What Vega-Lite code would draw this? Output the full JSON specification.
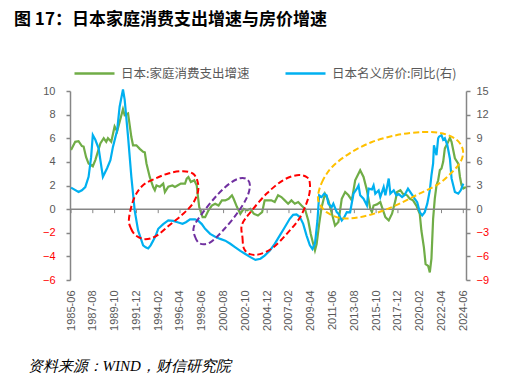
{
  "$schema": "https://vega.github.io/schema/vega-lite/v6.json",
  "autosize": {"type": "none"},
  "width": 396,
  "height": 189,
  "padding": {"left": 70, "top": 91, "right": 57, "bottom": 107},
  "background": "white",
  "title": {"text": "图 17：日本家庭消费支出增速与房价增速", "anchor": "start", "frame": "group", "dx": -56, "offset": 23, "font": "Noto Sans CJK SC", "fontSize": 17, "fontWeight": "bold", "color": "#000000"},
  "config": {"view": {"stroke": null}, "font": "Liberation Sans", "axis": {"labelOverlap": false, "labelFlush": false}},
  "datasets": {
    "consumption": [
      {"date": "1985-06", "value": 5.0}, {"date": "1985-11", "value": 5.7}, {"date": "1986-03", "value": 5.75}, {"date": "1986-07", "value": 5.34},
      {"date": "1986-09", "value": 5.3}, {"date": "1986-12", "value": 4.4}, {"date": "1987-03", "value": 3.86}, {"date": "1987-08", "value": 3.63},
      {"date": "1987-11", "value": 4.15}, {"date": "1988-05", "value": 5.56}, {"date": "1988-09", "value": 6.0}, {"date": "1988-12", "value": 5.7},
      {"date": "1989-02", "value": 6.0}, {"date": "1989-06", "value": 5.7}, {"date": "1989-10", "value": 7.0}, {"date": "1990-01", "value": 6.6},
      {"date": "1990-08", "value": 8.46}, {"date": "1990-10", "value": 7.95}, {"date": "1991-02", "value": 8.1}, {"date": "1991-06", "value": 6.1},
      {"date": "1991-08", "value": 5.4}, {"date": "1991-12", "value": 5.4}, {"date": "1992-04", "value": 5.1}, {"date": "1992-08", "value": 4.85},
      {"date": "1992-10", "value": 4.8}, {"date": "1992-12", "value": 3.86}, {"date": "1993-04", "value": 2.7}, {"date": "1993-08", "value": 1.87},
      {"date": "1993-10", "value": 1.6}, {"date": "1993-12", "value": 2.0}, {"date": "1994-04", "value": 1.9}, {"date": "1994-08", "value": 2.16},
      {"date": "1994-10", "value": 1.45}, {"date": "1995-02", "value": 1.9}, {"date": "1995-07", "value": 2.0}, {"date": "1995-10", "value": 1.87},
      {"date": "1996-01", "value": 2.0}, {"date": "1996-05", "value": 2.16}, {"date": "1996-10", "value": 2.16}, {"date": "1996-12", "value": 2.58},
      {"date": "1997-02", "value": 2.72}, {"date": "1997-05", "value": 2.3}, {"date": "1997-09", "value": 2.44}, {"date": "1997-12", "value": 2.0},
      {"date": "1998-01", "value": 1.3}, {"date": "1998-03", "value": 0.17}, {"date": "1998-05", "value": -0.26}, {"date": "1998-07", "value": -0.68},
      {"date": "1998-10", "value": -0.68}, {"date": "1999-02", "value": -0.1}, {"date": "1999-06", "value": 0.3}, {"date": "1999-10", "value": 0.46},
      {"date": "2000-02", "value": 0.3}, {"date": "2000-06", "value": 0.74}, {"date": "2000-10", "value": 0.74}, {"date": "2001-02", "value": 0.88},
      {"date": "2001-06", "value": 1.17}, {"date": "2001-08", "value": 0.88}, {"date": "2001-12", "value": 0.17}, {"date": "2002-04", "value": -0.39},
      {"date": "2002-08", "value": 0.03}, {"date": "2002-12", "value": -0.1}, {"date": "2003-04", "value": 0.03}, {"date": "2003-08", "value": -0.39},
      {"date": "2004-01", "value": -0.54}, {"date": "2004-06", "value": -0.26}, {"date": "2004-09", "value": 0.74}, {"date": "2005-01", "value": 0.74},
      {"date": "2005-05", "value": 0.74}, {"date": "2005-09", "value": 0.6}, {"date": "2006-01", "value": 1.17}, {"date": "2006-05", "value": 1.02},
      {"date": "2006-09", "value": 0.74}, {"date": "2007-01", "value": 0.46}, {"date": "2007-05", "value": 0.74}, {"date": "2007-09", "value": 0.46},
      {"date": "2008-01", "value": 0.6}, {"date": "2008-05", "value": 0.3}, {"date": "2008-09", "value": 0.03}, {"date": "2009-01", "value": -0.96},
      {"date": "2009-04", "value": -2.1}, {"date": "2009-07", "value": -2.95}, {"date": "2009-09", "value": -3.5}, {"date": "2009-11", "value": -2.95},
      {"date": "2010-02", "value": -1.25}, {"date": "2010-05", "value": 0.17}, {"date": "2010-09", "value": 1.3}, {"date": "2011-01", "value": 0.74},
      {"date": "2011-05", "value": -0.3}, {"date": "2011-09", "value": -1.4}, {"date": "2012-01", "value": -1.1}, {"date": "2012-05", "value": 0.88},
      {"date": "2012-09", "value": 1.45}, {"date": "2013-01", "value": 1.17}, {"date": "2013-05", "value": 0.74}, {"date": "2013-09", "value": 2.44},
      {"date": "2013-12", "value": 2.87}, {"date": "2014-03", "value": 3.3}, {"date": "2014-07", "value": 2.72}, {"date": "2014-11", "value": 1.6},
      {"date": "2015-03", "value": 0.03}, {"date": "2015-05", "value": -0.26}, {"date": "2015-07", "value": 0.3}, {"date": "2015-11", "value": 0.4},
      {"date": "2016-03", "value": 0.6}, {"date": "2016-05", "value": 0.17}, {"date": "2016-09", "value": -0.68}, {"date": "2017-01", "value": -0.96},
      {"date": "2017-05", "value": -0.39}, {"date": "2017-09", "value": 0.74}, {"date": "2017-11", "value": 1.45}, {"date": "2018-03", "value": 1.6},
      {"date": "2018-06", "value": 1.3}, {"date": "2018-11", "value": 1.17}, {"date": "2019-02", "value": 0.88}, {"date": "2019-06", "value": 0.74},
      {"date": "2019-10", "value": 0.3}, {"date": "2020-02", "value": -0.39}, {"date": "2020-04", "value": -1.81}, {"date": "2020-07", "value": -3.23},
      {"date": "2020-09", "value": -4.65}, {"date": "2020-12", "value": -4.8}, {"date": "2021-02", "value": -5.36}, {"date": "2021-04", "value": -4.2},
      {"date": "2021-06", "value": -0.82}, {"date": "2021-08", "value": 0.88}, {"date": "2021-10", "value": 2.0}, {"date": "2021-12", "value": 2.44},
      {"date": "2022-02", "value": 3.3}, {"date": "2022-04", "value": 3.44}, {"date": "2022-06", "value": 4.0}, {"date": "2022-08", "value": 5.14},
      {"date": "2022-11", "value": 5.56}, {"date": "2023-02", "value": 6.04}, {"date": "2023-04", "value": 5.7}, {"date": "2023-08", "value": 4.3},
      {"date": "2023-12", "value": 3.86}, {"date": "2024-02", "value": 2.72}, {"date": "2024-04", "value": 2.0}, {"date": "2024-06", "value": 1.74},
      {"date": "2024-09", "value": 1.87}
    ],
    "housePrice": [
      {"date": "1985-06", "value": 2.73}, {"date": "1986-03", "value": 2.17}, {"date": "1986-07", "value": 2.4}, {"date": "1986-11", "value": 2.8},
      {"date": "1987-03", "value": 4.1}, {"date": "1987-06", "value": 6.6}, {"date": "1987-08", "value": 9.4}, {"date": "1987-11", "value": 8.8},
      {"date": "1988-03", "value": 7.7}, {"date": "1988-08", "value": 4.1}, {"date": "1989-01", "value": 5.2}, {"date": "1989-05", "value": 6.2},
      {"date": "1989-08", "value": 7.9}, {"date": "1990-01", "value": 10.0}, {"date": "1990-04", "value": 13.0}, {"date": "1990-08", "value": 15.2},
      {"date": "1990-10", "value": 13.9}, {"date": "1991-02", "value": 9.2}, {"date": "1991-06", "value": 4.1}, {"date": "1991-10", "value": -0.2},
      {"date": "1992-02", "value": -2.7}, {"date": "1992-08", "value": -4.6}, {"date": "1992-11", "value": -4.85}, {"date": "1993-02", "value": -5.0},
      {"date": "1993-05", "value": -4.6}, {"date": "1993-08", "value": -4.0}, {"date": "1993-11", "value": -3.36}, {"date": "1994-02", "value": -2.5},
      {"date": "1994-08", "value": -1.9}, {"date": "1995-02", "value": -1.44}, {"date": "1995-08", "value": -1.5}, {"date": "1996-02", "value": -1.7},
      {"date": "1996-07", "value": -1.87}, {"date": "1996-11", "value": -1.66}, {"date": "1997-04", "value": -1.3}, {"date": "1997-10", "value": -1.3},
      {"date": "1998-02", "value": -1.5}, {"date": "1998-06", "value": -1.9}, {"date": "1998-10", "value": -2.5}, {"date": "1999-04", "value": -3.14},
      {"date": "1999-10", "value": -3.5}, {"date": "2000-04", "value": -3.78}, {"date": "2000-10", "value": -4.0}, {"date": "2001-04", "value": -4.4},
      {"date": "2001-10", "value": -4.85}, {"date": "2002-04", "value": -5.3}, {"date": "2002-10", "value": -5.7}, {"date": "2003-04", "value": -6.1},
      {"date": "2003-10", "value": -6.45}, {"date": "2004-04", "value": -6.3}, {"date": "2004-09", "value": -5.9}, {"date": "2005-03", "value": -5.3},
      {"date": "2005-09", "value": -4.4}, {"date": "2006-03", "value": -3.36}, {"date": "2006-09", "value": -2.3}, {"date": "2007-03", "value": -1.23},
      {"date": "2007-07", "value": -0.72}, {"date": "2007-11", "value": -0.68}, {"date": "2008-03", "value": -1.0}, {"date": "2008-07", "value": -1.87},
      {"date": "2008-11", "value": -3.36}, {"date": "2009-03", "value": -4.6}, {"date": "2009-06", "value": -5.06}, {"date": "2009-09", "value": -4.4},
      {"date": "2009-12", "value": -1.44}, {"date": "2010-02", "value": 1.75}, {"date": "2010-05", "value": 1.53}, {"date": "2010-08", "value": 1.96},
      {"date": "2010-11", "value": 1.75}, {"date": "2011-01", "value": 0.69}, {"date": "2011-05", "value": 0.26}, {"date": "2011-07", "value": 0.69},
      {"date": "2011-11", "value": -0.38}, {"date": "2012-01", "value": -0.59}, {"date": "2012-05", "value": -1.44}, {"date": "2012-08", "value": -1.02},
      {"date": "2012-11", "value": -0.38}, {"date": "2013-03", "value": -0.4}, {"date": "2013-07", "value": 1.96}, {"date": "2013-11", "value": 2.6},
      {"date": "2014-01", "value": 3.0}, {"date": "2014-03", "value": 1.75}, {"date": "2014-07", "value": 1.32}, {"date": "2014-11", "value": 0.47},
      {"date": "2015-01", "value": 2.6}, {"date": "2015-05", "value": 2.5}, {"date": "2015-07", "value": 3.0}, {"date": "2015-09", "value": 1.96},
      {"date": "2016-01", "value": 2.39}, {"date": "2016-03", "value": 1.53}, {"date": "2016-07", "value": 2.8}, {"date": "2016-09", "value": 1.75},
      {"date": "2017-01", "value": 3.88}, {"date": "2017-03", "value": 1.96}, {"date": "2017-07", "value": 2.39}, {"date": "2017-10", "value": 1.75},
      {"date": "2018-01", "value": 1.9}, {"date": "2018-05", "value": 1.53}, {"date": "2018-08", "value": 1.8}, {"date": "2018-12", "value": 2.6},
      {"date": "2019-04", "value": 1.96}, {"date": "2019-08", "value": 1.32}, {"date": "2019-11", "value": 0.89}, {"date": "2020-02", "value": -0.38},
      {"date": "2020-05", "value": -0.8}, {"date": "2020-08", "value": -0.38}, {"date": "2020-11", "value": 0.69}, {"date": "2021-02", "value": 2.39},
      {"date": "2021-04", "value": 4.3}, {"date": "2021-06", "value": 5.8}, {"date": "2021-07", "value": 8.1}, {"date": "2021-10", "value": 6.85},
      {"date": "2021-12", "value": 9.0}, {"date": "2022-01", "value": 9.2}, {"date": "2022-04", "value": 9.4}, {"date": "2022-06", "value": 8.8},
      {"date": "2022-08", "value": 9.0}, {"date": "2022-11", "value": 8.1}, {"date": "2023-02", "value": 6.4}, {"date": "2023-04", "value": 3.9},
      {"date": "2023-08", "value": 2.17}, {"date": "2023-12", "value": 1.96}, {"date": "2024-03", "value": 2.39}, {"date": "2024-06", "value": 3.24}
    ],
    "ellipses": [
      {"ellipse": "A", "i": 1, "date": "1991-03-07", "value": -0.79}, {"ellipse": "A", "i": 2, "date": "1991-05-18", "value": -1.64},
      {"ellipse": "A", "i": 3, "date": "1991-11-17", "value": -2.24}, {"ellipse": "A", "i": 4, "date": "1992-10-09", "value": -2.54},
      {"ellipse": "A", "i": 5, "date": "1993-11-13", "value": -2.28}, {"ellipse": "A", "i": 6, "date": "1995-02-28", "value": -1.39},
      {"ellipse": "A", "i": 7, "date": "1996-07-19", "value": -0.41}, {"ellipse": "A", "i": 8, "date": "1997-07-16", "value": 0.49},
      {"ellipse": "A", "i": 9, "date": "1998-01-16", "value": 1.51}, {"ellipse": "A", "i": 10, "date": "1997-12-28", "value": 2.36},
      {"ellipse": "A", "i": 11, "date": "1997-07-16", "value": 3.0}, {"ellipse": "A", "i": 12, "date": "1996-07-19", "value": 3.21},
      {"ellipse": "A", "i": 13, "date": "1995-02-28", "value": 3.04}, {"ellipse": "A", "i": 14, "date": "1993-11-13", "value": 2.61},
      {"ellipse": "A", "i": 15, "date": "1992-07-27", "value": 2.02}, {"ellipse": "A", "i": 16, "date": "1991-09-06", "value": 0.91},
      {"ellipse": "B", "i": 1, "date": "1997-08-21", "value": -1.47}, {"ellipse": "B", "i": 2, "date": "1997-09-27", "value": -2.32},
      {"ellipse": "B", "i": 3, "date": "1998-03-27", "value": -2.92}, {"ellipse": "B", "i": 4, "date": "1999-03-24", "value": -2.83},
      {"ellipse": "B", "i": 5, "date": "2000-07-09", "value": -1.81}, {"ellipse": "B", "i": 6, "date": "2001-12-01", "value": -0.37},
      {"ellipse": "B", "i": 7, "date": "2002-11-27", "value": 0.99}, {"ellipse": "B", "i": 8, "date": "2003-03-15", "value": 2.02},
      {"ellipse": "B", "i": 9, "date": "2002-11-27", "value": 2.53}, {"ellipse": "B", "i": 10, "date": "2002-03-18", "value": 2.61},
      {"ellipse": "B", "i": 11, "date": "2001-03-21", "value": 2.19}, {"ellipse": "B", "i": 12, "date": "1999-12-06", "value": 1.17},
      {"ellipse": "B", "i": 13, "date": "1998-07-15", "value": -0.28},
      {"ellipse": "C", "i": 1, "date": "2002-06-01", "value": -1.3}, {"ellipse": "C", "i": 2, "date": "2002-06-18", "value": -2.41},
      {"ellipse": "C", "i": 3, "date": "2002-08-12", "value": -3.34}, {"ellipse": "C", "i": 4, "date": "2003-03-15", "value": -3.81},
      {"ellipse": "C", "i": 5, "date": "2004-03-15", "value": -3.81}, {"ellipse": "C", "i": 6, "date": "2005-07-01", "value": -3.26},
      {"ellipse": "C", "i": 7, "date": "2006-11-21", "value": -2.07}, {"ellipse": "C", "i": 8, "date": "2008-03-06", "value": -0.71},
      {"ellipse": "C", "i": 9, "date": "2009-01-09", "value": 1.0}, {"ellipse": "C", "i": 10, "date": "2009-03-03", "value": 2.1},
      {"ellipse": "C", "i": 11, "date": "2008-11-15", "value": 2.7}, {"ellipse": "C", "i": 12, "date": "2007-11-18", "value": 2.87},
      {"ellipse": "C", "i": 13, "date": "2006-06-27", "value": 2.44}, {"ellipse": "C", "i": 14, "date": "2004-11-24", "value": 1.34},
      {"ellipse": "C", "i": 15, "date": "2003-05-27", "value": -0.11},
      {"ellipse": "D", "i": 1, "date": "2009-12-18", "value": 1.08}, {"ellipse": "D", "i": 2, "date": "2010-05-12", "value": 2.27},
      {"ellipse": "D", "i": 3, "date": "2011-05-09", "value": 3.55}, {"ellipse": "D", "i": 4, "date": "2013-02-24", "value": 4.74},
      {"ellipse": "D", "i": 5, "date": "2015-05-03", "value": 5.68}, {"ellipse": "D", "i": 6, "date": "2017-10-27", "value": 6.27},
      {"ellipse": "D", "i": 7, "date": "2020-05-27", "value": 6.53}, {"ellipse": "D", "i": 8, "date": "2022-05-21", "value": 6.4},
      {"ellipse": "D", "i": 9, "date": "2023-10-12", "value": 5.85}, {"ellipse": "D", "i": 10, "date": "2024-05-18", "value": 5.0},
      {"ellipse": "D", "i": 11, "date": "2024-03-06", "value": 4.06}, {"ellipse": "D", "i": 12, "date": "2023-04-15", "value": 3.12},
      {"ellipse": "D", "i": 13, "date": "2021-11-24", "value": 2.1}, {"ellipse": "D", "i": 14, "date": "2019-11-27", "value": 1.25},
      {"ellipse": "D", "i": 15, "date": "2017-12-03", "value": 0.4}, {"ellipse": "D", "i": 16, "date": "2015-12-06", "value": -0.28},
      {"ellipse": "D", "i": 17, "date": "2013-12-12", "value": -0.71}, {"ellipse": "D", "i": 18, "date": "2012-02-27", "value": -0.75},
      {"ellipse": "D", "i": 19, "date": "2010-11-12", "value": -0.28}, {"ellipse": "D", "i": 20, "date": "2010-03-01", "value": 0.4}
    ],
    "xticks": [
      {"date": "1985-06"}, {"date": "1987-08"}, {"date": "1989-10"}, {"date": "1991-12"}, {"date": "1994-02"}, {"date": "1996-04"}, {"date": "1998-06"},
      {"date": "2000-08"}, {"date": "2002-10"}, {"date": "2004-12"}, {"date": "2007-02"}, {"date": "2009-04"}, {"date": "2011-06"}, {"date": "2013-08"},
      {"date": "2015-10"}, {"date": "2017-12"}, {"date": "2020-02"}, {"date": "2022-04"}, {"date": "2024-06"}
    ]
  },
  "layer": [
    {
      "layer": [
        {
          "data": {"name": "consumption"},
          "mark": {"type": "line", "strokeWidth": 2.2},
          "encoding": {
            "x": {"field": "date", "type": "temporal",
              "scale": {"type": "utc", "domain": [{"year": 1985, "month": 4, "date": 25, "utc": true}, {"year": 2024, "month": 9, "date": 7, "utc": true}]},
              "axis": {
                "values": [
                  {"year": 1985, "month": 6, "date": 1, "utc": true}, {"year": 1987, "month": 8, "date": 1, "utc": true}, {"year": 1989, "month": 10, "date": 1, "utc": true},
                  {"year": 1991, "month": 12, "date": 1, "utc": true}, {"year": 1994, "month": 2, "date": 1, "utc": true}, {"year": 1996, "month": 4, "date": 1, "utc": true},
                  {"year": 1998, "month": 6, "date": 1, "utc": true}, {"year": 2000, "month": 8, "date": 1, "utc": true}, {"year": 2002, "month": 10, "date": 1, "utc": true},
                  {"year": 2004, "month": 12, "date": 1, "utc": true}, {"year": 2007, "month": 2, "date": 1, "utc": true}, {"year": 2009, "month": 4, "date": 1, "utc": true},
                  {"year": 2011, "month": 6, "date": 1, "utc": true}, {"year": 2013, "month": 8, "date": 1, "utc": true}, {"year": 2015, "month": 10, "date": 1, "utc": true},
                  {"year": 2017, "month": 12, "date": 1, "utc": true}, {"year": 2020, "month": 2, "date": 1, "utc": true}, {"year": 2022, "month": 4, "date": 1, "utc": true},
                  {"year": 2024, "month": 6, "date": 1, "utc": true}
                ],
                "tickCount": 40,
                "format": "%Y-%m", "labelAngle": -90, "labelAlign": "right", "labelBaseline": "middle",
                "labelFont": "Liberation Sans", "labelFontSize": 11, "labelColor": "#595959",
                "labelPadding": 10, "labelFlush": false, "labelOverlap": false,
                "domain": false, "ticks": false, "grid": false,
                "title": "资料来源：WIND，财信研究院", "titleX": -43, "titleY": 85, "titleAlign": "left", "titleBaseline": "middle", "titleAnchor": "start",
                "titleFont": "Liberation Serif", "titleFontStyle": "italic", "titleFontWeight": "normal", "titleFontSize": 15, "titleColor": "#000000"
              }
            },
            "y": {"field": "value", "type": "quantitative", "scale": {"domain": [-6, 10]},
              "axis": {"orient": "left", "values": [-6, -4, -2, 0, 2, 4, 6, 8, 10], "tickCount": 20, "title": null, "grid": false, "labelOverlap": false,
                "domainColor": "#868686", "domainWidth": 1.5, "tickColor": "#868686", "tickSize": 4, "tickWidth": 1.5,
                "labelFont": "Liberation Sans", "labelFontSize": 11, "labelPadding": 11,
                "labelColor": {"condition": {"test": "datum.value < 0", "value": "#FF0000"}, "value": "#595959"}}},
            "color": {"datum": "日本:家庭消费支出增速", "type": "nominal",
              "scale": {"domain": ["日本:家庭消费支出增速", "日本名义房价:同比(右)"], "range": ["#70AD47", "#00B0F0"]},
              "legend": {"title": null, "orient": "none", "legendX": 3, "legendY": -39, "direction": "horizontal",
                "symbolType": "stroke", "symbolSize": 1600, "symbolStrokeWidth": 2.5, "columnPadding": 30, "labelOffset": 5,
                "labelFont": "Noto Sans CJK SC", "labelFontSize": 12.5, "labelColor": "#595959"}}
          }
        },
        {
          "data": {"values": [{"level": 0}]},
          "mark": {"type": "rule", "color": "#868686", "strokeWidth": 1.5},
          "encoding": {"y": {"field": "level", "type": "quantitative", "scale": {"domain": [-6, 10]}}}
        },
        {
          "data": {"name": "xticks"},
          "mark": {"type": "rule", "color": "#868686", "strokeWidth": 1},
          "encoding": {
            "x": {"field": "date", "type": "temporal", "scale": {"type": "utc", "domain": [{"year": 1985, "month": 4, "date": 25, "utc": true}, {"year": 2024, "month": 9, "date": 7, "utc": true}]}},
            "y": {"datum": 0, "type": "quantitative", "scale": {"domain": [-6, 10]}},
            "y2": {"datum": -0.34}
          }
        }
      ]
    },
    {
      "data": {"name": "housePrice"},
      "mark": {"type": "line", "strokeWidth": 2.2},
      "encoding": {
        "x": {"field": "date", "type": "temporal", "scale": {"type": "utc", "domain": [{"year": 1985, "month": 4, "date": 25, "utc": true}, {"year": 2024, "month": 9, "date": 7, "utc": true}]}},
        "y": {"field": "value", "type": "quantitative", "scale": {"domain": [-9, 15]},
          "axis": {"orient": "right", "values": [-9, -6, -3, 0, 3, 6, 9, 12, 15], "tickCount": 20, "title": null, "grid": false, "labelOverlap": false,
            "domainColor": "#868686", "domainWidth": 1.5, "tickColor": "#868686", "tickSize": 4, "tickWidth": 1.5,
            "labelFont": "Liberation Sans", "labelFontSize": 11, "labelPadding": 6,
            "labelColor": {"condition": {"test": "datum.value < 0", "value": "#FF0000"}, "value": "#595959"}}},
        "color": {"datum": "日本名义房价:同比(右)", "type": "nominal"}
      }
    },
    {
      "data": {"name": "ellipses"},
      "layer": [
        {
          "transform": [{"filter": "datum.ellipse === 'A' || datum.ellipse === 'C'"}],
          "mark": {"type": "line", "interpolate": "cardinal-closed", "color": "#FF0000", "strokeWidth": 2, "strokeDash": [6, 3]},
          "encoding": {
            "x": {"field": "date", "type": "temporal", "scale": {"type": "utc", "domain": [{"year": 1985, "month": 4, "date": 25, "utc": true}, {"year": 2024, "month": 9, "date": 7, "utc": true}]}},
            "y": {"field": "value", "type": "quantitative", "scale": {"domain": [-6, 10]}, "axis": null},
            "detail": {"field": "ellipse"},
            "order": {"field": "i"}
          }
        },
        {
          "transform": [{"filter": "datum.ellipse === 'B'"}],
          "mark": {"type": "line", "interpolate": "cardinal-closed", "color": "#7030A0", "strokeWidth": 2, "strokeDash": [6, 3]},
          "encoding": {
            "x": {"field": "date", "type": "temporal", "scale": {"type": "utc", "domain": [{"year": 1985, "month": 4, "date": 25, "utc": true}, {"year": 2024, "month": 9, "date": 7, "utc": true}]}},
            "y": {"field": "value", "type": "quantitative", "scale": {"domain": [-6, 10]}, "axis": null},
            "order": {"field": "i"}
          }
        },
        {
          "transform": [{"filter": "datum.ellipse === 'D'"}],
          "mark": {"type": "line", "interpolate": "cardinal-closed", "color": "#FFC000", "strokeWidth": 2, "strokeDash": [6, 3]},
          "encoding": {
            "x": {"field": "date", "type": "temporal", "scale": {"type": "utc", "domain": [{"year": 1985, "month": 4, "date": 25, "utc": true}, {"year": 2024, "month": 9, "date": 7, "utc": true}]}},
            "y": {"field": "value", "type": "quantitative", "scale": {"domain": [-6, 10]}, "axis": null},
            "order": {"field": "i"}
          }
        }
      ]
    }
  ],
  "resolve": {"scale": {"y": "independent"}}
}
